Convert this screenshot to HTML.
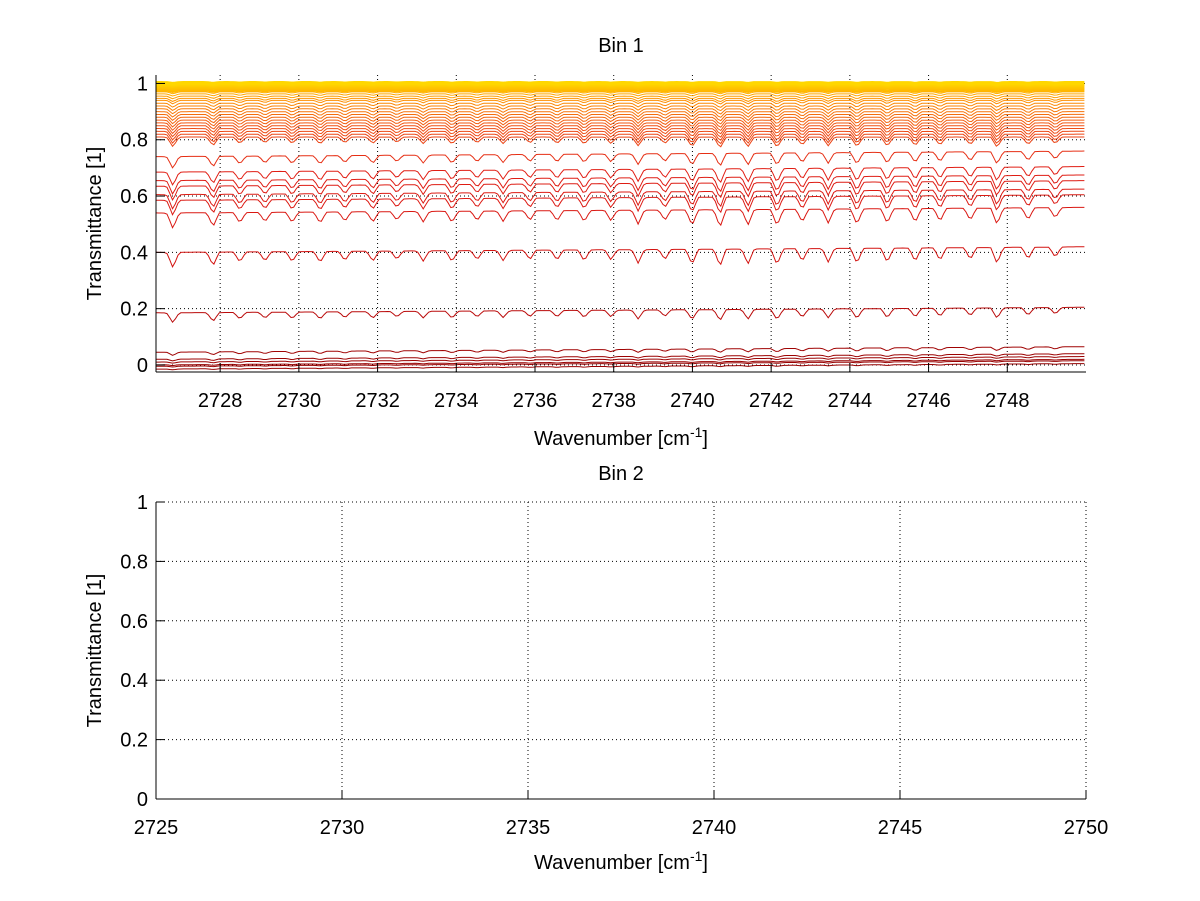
<!DOCTYPE html>
<html><head><meta charset="utf-8"><style>
html,body{margin:0;padding:0;background:#fff;}
svg{display:block;font-family:"Liberation Sans",sans-serif;}
</style></head><body>
<svg id="fig" width="1200" height="901" viewBox="0 0 1200 901">
<rect width="1200" height="901" fill="#fff"/>
<g id="p1"></g>
<g id="p2"></g>
</svg>
<script>
// ---- data ----
const levels = [1.005,1.0,0.998,0.996,0.993,0.99,0.985,0.98,0.975,0.97,0.963,0.955,0.947,0.94,0.93,0.92,0.91,0.9,0.89,0.88,0.87,0.86,0.85,0.84,0.83,0.82,0.81,0.75,0.695,0.665,0.645,0.615,0.595,0.55,0.41,0.195,0.055,0.03,0.02,0.01,0.005,-0.005];
const lineCenters = [2726.8,2727.82,2728.5,2729.14,2729.83,2730.54,2731.17,2731.88,2732.49,2733.16,2733.89,2734.53,2735.19,2735.87,2736.56,2737.25,2737.93,2738.62,2739.3,2739.99,2740.7,2741.41,2742.15,2742.79,2743.45,2744.18,2744.95,2745.66,2746.29,2747.06,2747.74,2748.53,2749.22];
const lineStrengths = [0.9,0.8,0.6,0.55,0.6,0.65,0.55,0.6,0.5,0.6,0.65,0.55,0.6,0.55,0.6,0.65,0.6,0.8,0.6,0.9,1.0,0.9,0.95,0.75,0.8,0.9,0.85,0.8,0.75,0.7,0.95,0.7,0.6];
const xTicks1 = [2728,2730,2732,2734,2736,2738,2740,2742,2744,2746,2748];
const yTicks = [0,0.2,0.4,0.6,0.8,1];
const yTickLabels = ["0","0.2","0.4","0.6","0.8","1"];
const xTicks2 = [2725,2730,2735,2740,2745,2750];

const NS="http://www.w3.org/2000/svg";
function mk(tag,attrs,parent){const e=document.createElementNS(NS,tag);for(const k in attrs)e.setAttribute(k,attrs[k]);parent.appendChild(e);return e;}

function colorFor(v){
  const stops=[[0,[150,0,0]],[0.3,[205,15,15]],[0.7,[225,30,20]],[0.85,[240,80,20]],[0.95,[255,150,0]],[1.0,[255,215,0]]];
  if(v<=0)return 'rgb(150,0,0)';
  for(let i=1;i<stops.length;i++){if(v<=stops[i][0]){const a=stops[i-1],b=stops[i];const t=(v-a[0])/(b[0]-a[0]);const c=a[1].map((q,j)=>Math.round(q+(b[1][j]-q)*t));return `rgb(${c})`;}}
  return 'rgb(255,215,0)';
}

function panel(g,x0,x1,xmin,xmax,yTop,yBot,ymin,ymax,xt){
  const X=v=>x0+(v-xmin)/(xmax-xmin)*(x1-x0);
  const Y=v=>yBot-(v-ymin)/(ymax-ymin)*(yBot-yTop);
  xt.forEach(t=>{const l=mk('line',{x1:X(t),x2:X(t),y1:yTop,y2:yBot,stroke:'#000','stroke-width':1,'stroke-dasharray':'1,3'},g);
    
    });
  yTicks.forEach(t=>{const l=mk('line',{x1:x0,x2:x1,y1:Y(t),y2:Y(t),stroke:'#000','stroke-width':1,'stroke-dasharray':'1,3'},g);
    
    });
  return {X,Y};
}
function axes(g,x0,x1,yTop,yBot,X,Y,xt,xlabels,title,xlabY,titleY){
  mk('line',{x1:x0,x2:x1,y1:yBot,y2:yBot,stroke:'#000','stroke-width':1},g);
  mk('line',{x1:x0,x2:x0,y1:yTop,y2:yBot,stroke:'#000','stroke-width':1},g);
  xt.forEach((t,i)=>{
    mk('line',{x1:X(t),x2:X(t),y1:yBot,y2:yBot-9,stroke:'#000'},g);
    const tx=mk('text',{x:X(t),y:yBot+35,'font-size':20,'text-anchor':'middle'},g);tx.textContent=xlabels[i];
    
    
  });
  yTicks.forEach((t,i)=>{
    mk('line',{x1:x0,x2:x0+9,y1:Y(t),y2:Y(t),stroke:'#000'},g);
    const tx=mk('text',{x:x0-8,y:Y(t)+7,'font-size':20,'text-anchor':'end'},g);tx.textContent=yTickLabels[i];
    
    
  });
  const tt=mk('text',{x:(x0+x1)/2,y:titleY,'font-size':20,'text-anchor':'middle'},g);tt.textContent=title;
  
  
  const xl=mk('text',{x:(x0+x1)/2,y:xlabY,'font-size':20,'text-anchor':'middle'},g);
  xl.innerHTML='Wavenumber [cm<tspan dy="-8" font-size="14">-1</tspan><tspan dy="8">]</tspan>';
  
  
  const cy=(yTop+yBot)/2;
  const yl=mk('text',{x:101,y:cy,'font-size':20,'text-anchor':'middle',transform:`rotate(-90 101 ${cy})`},g);yl.textContent='Transmittance [1]';
  
  
}

// panel 1
const g1=document.getElementById('p1');
const a1=panel(g1,156,1086,2726.37,2750,75,372,-0.025,1.03,xTicks1);
const sp=mk('g',{fill:'none','stroke-width':1},g1);


levels.slice().reverse().forEach(lv=>{
  let d='';
  const depth=Math.max(0.003,lv*(1-lv)*0.22);
  for(let w=2726.37;w<=2750.001;w+=0.07){
    let a=0;
    lineCenters.forEach((c,j)=>{const dx=Math.abs(w-c)/0.16;a+=lineStrengths[j]*Math.max(0,1-dx)+0.15*lineStrengths[j]/(1+dx*dx*4);});
    const v=Math.min(1.012,lv-depth*a+(lv>0.8?0:0.01*(w-2738)/12));
    d+=(d?'L':'M')+a1.X(w).toFixed(1)+','+a1.Y(v).toFixed(1);
  }
  const p=mk('path',{d:d,stroke:colorFor(lv),'stroke-width':lv>0.97?2:1},sp);
  
  
});
axes(g1,156,1086,75,372,a1.X,a1.Y,xTicks1,xTicks1.map(String),'Bin 1',445,52);

// panel 2
const g2=document.getElementById('p2');
const a2=panel(g2,156,1086,2725,2750,502,799,0,1,xTicks2);
axes(g2,156,1086,502,799,a2.X,a2.Y,xTicks2,xTicks2.map(String),'Bin 2',869,480);
</script>
</body></html>
